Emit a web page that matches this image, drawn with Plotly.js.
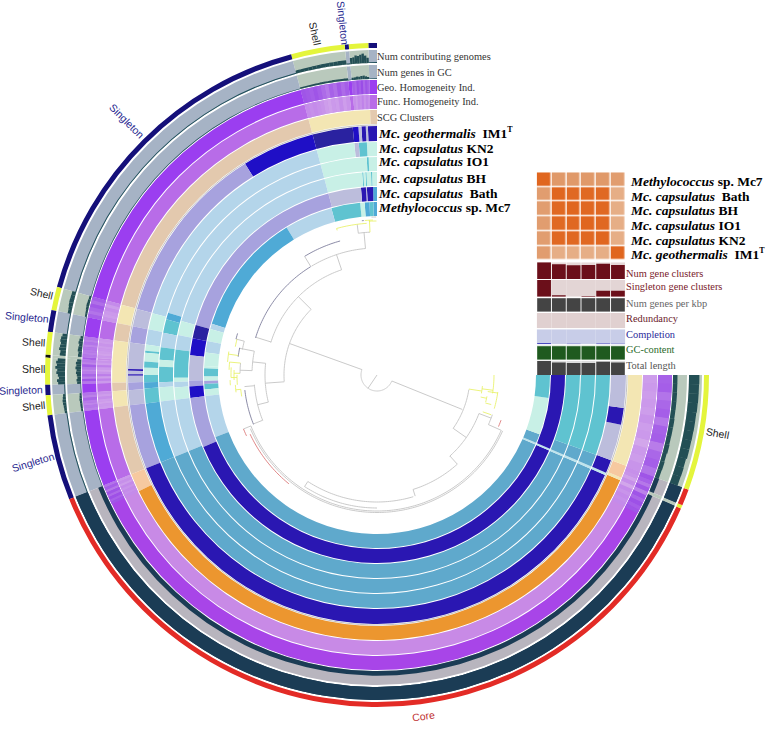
<!DOCTYPE html>
<html><head><meta charset="utf-8">
<script src="https://cdn.plot.ly/plotly-3.0.1.min.js"></script>
<style>html,body{margin:0;padding:0;background:#fff}#c{width:767px;height:730px}</style>
</head><body><div id="c"></div>
<script>
/* ---------- data (angles: degrees counter-clockwise from the top) ---------- */
const sectionEdges=[0,1.5,4.9,5.6,15,74.6,78.7,82.5,86.5,87,91.7,93.5,97,112,246.3,246.9,249.8,270];
const sectionKind=['S','H','S','H','S','H','S','H','K','H','S','H','S','C','H','C','H'];

const shellFrom=[1.5,5.6,74.6,82.5,87,93.5,249.8];
const shellTo=[4.9,15,78.7,86.5,91.7,97,270];
const shellContrib=[
 [2.5,3.5,4.5,4,3.5,3.8,3,2.8],
 [2,1.9,1.8,1.8,1.7,1.7,1.6,1.6,1.5,1.5,1.4,1.4],
 [1.8,1.9,2,1.9,1.7,1.6],
 [2.3,2.8,3,2.6,2.9,3.2,2.5,2.7],
 [3.5,4.2,3.8,4.5,3.6,4,3.3,2.8,3.7,3.2],
 [1.2,1.4,1.6,1.5,1.3,1.2,1.1],
 [3.8,3.9,3.8,4.2,4.2,4.3,4.4,4.4,4.6,4.7,4.7,4.8]];
const shellGenes=[
 [1.5,2,2.6,2.4,2,2.2,1.8,1.6],
 [1.6,1.5,1.5,1.5,1.4,1.4,1.4,1.3,1.3,1.2,1.2,1.2],
 [1.5,1.8,2,1.8,1.5,1.4],
 [2,2.6,3,2.4,2.8,3,2.4,2.6],
 [3,3.8,3.4,4,3.2,3.6,3,2.6,3.2,2.8],
 [1.4,1.6,1.8,1.6,1.5,1.4,1.3],
 [3,3.2,3,3.4,3.2,3.3,3.4,3.2,3.3,3.3,3.2,3.2]];
const shellGeo=[
 [.55,.7,.5,.8,.6,.75,.5,.6],
 [.6,.45,.65,.4,.55,.3,.45,.6,.7,.6,.65,.7],
 [.6,.4,.65,.5,.35,.55],
 [.3,.2,.35,.15,.3,.25,.2,.3],
 [.3,.15,.6,.3,.1,.25,.5,.2,.7,.3],
 [.35,.2,.5,.25,.15,.3,.2],
 [.35,.6,.5,.25,.6,.55,.3,.6,.5,.35,.6,.55]];
const shellFunc=[
 [.45,.55,.4,.6,.45,.5,.35,.45],
 [.4,.3,.45,.3,.35,.25,.3,.4,.45,.5,.45,.5],
 [.5,.3,.45,.35,.3,.4],
 [.35,.3,.4,.3,.35,.3,.25,.35],
 [.4,.3,.6,.35,.25,.4,.65,.3,.6,.35],
 [.4,.3,.45,.3,.25,.35,.3],
 [.4,.3,.35,.2,.35,.3,.4,.3,.35,.3,.35,.3]];
const sectionContrib=0.45, coreContrib=6, sectionGenes=0.45, coreGenes=3.4;
const streakFrom=[112,242];
const streakTo=[116,249.8];
const geoStreaks=[[.35,.6,.3,.7,.45,.75,.55,.7],[.7,.6,.75,.5,.7,.2,.65,.3,.55,.7]];
const funcStreaks=[[.35,.45,.3,.5,.4,.5,.45,.5],[.5,.45,.5,.4,.5,.2,.45,.25,.4,.45]];

const scgEdges=[0,1.5,15,74.6,78.7,82.5,91.7,93.5,97,112,116,246.6,247.2,250,270];
const scgTones=['T','Y','T','Y','T','Y','T','Y','T','P','O','Y','P','Y'];
const im1Edges=[0,2.1,2.6,3.6,4.3,5.6,15,32,74.6,78.7,82.5,88.6,89,89.8,90.2,91.7,93.5,97,112,246.3,246.9,250,258.5,262.4,270];
const im1Tones=['B','G','B','G','V','D','V','L','G','L','G','B','G','B','G','L','G','L','B','W','B','G','B','G'];
const kn2Edges=[0,2.5,4.5,5.6,15,74.6,78.7,82.5,84,84.5,86.7,88.2,90,91.8,93.3,97,112,246.3,246.9,250,270];
const kn2Tones=['M','C','G','M','U','M','U','M','C','M','C','M','C','A','C','A','E','W','E','C'];
const io1Edges=[0,2.2,2.7,15,73.4,75.2,78.8,82.7,86,87.8,91.9,93.2,97,112,246.3,246.9,250,270];
const io1Tones=['M','C','M','U','A','C','U','C','M','C','U','M','U','E','W','E','C'];
const bhEdges=[0,1.4,1.7,3,3.3,3.9,4.2,15,74.6,78.6,82.8,90.8,92,93.5,97,112,246.3,246.9,250,270];
const bhTones=['M','C','M','C','M','C','M','U','M','U','C','M','U','M','U','E','W','E','C'];
const bathEdges=[0,1.2,3.1,3.4,4.9,15,74.6,78.7,84,91.7,93.5,97,112.5,246.3,246.9,270];
const bathTones=['A','B','G','B','G','L','D','V','G','L','V','L','B','W','B'];
const mc7Edges=[0,1.2,2.5,4.1,5.6,15.3,31.5,72.8,74.6,78.7,82.5,87,87.8,90.5,92,93,94.8,97,111,246.3,246.9,250,262.4,270];
const mc7Tones=['A','C','A','M','C','U','A','U','M','U','M','M','C','M','L','C','M','U','E','W','E','M','C'];

/* tree: arcs [radius, from, to, colour], links [angle, r1, r2, colour] */
const treeArcs=[[16,70.2,248,'g'],[93,45.1,94,'g'],[111,18.6,73,'g'],[127,31.5,73,'d'],[139,15.4,31.3,'d'],[127,5.2,31,'g'],
 [112,84,104,'g'],[125,79,88,'g'],[145.5,73.4,75.7,'d'],[144.5,75.7,78.7,'y'],[140,78.8,82.5,'d'],[137,75.7,79.3,'g'],[137,85,89.3,'g'],
 [150,81,85,'y'],[148,85,88,'y'],[146,87,91,'y'],[143,88,92,'y'],[140,90,94,'y'],[147,92,94,'y'],[142,94,97,'y'],[137,96,99,'y'],[123,94.5,111.7,'g'],[133,96.5,111.8,'d'],
 [144,112,115,'r'],[140,115,141,'r'],[136,112,246,'g'],[137.5,113,246,'g'],[133,147,180,'g'],[127,147,196.6,'g'],[120,197.5,222,'g'],
 [109,221.8,249.3,'g'],[93,235,261,'g'],[106,260,264,'y'],[117,261,270,'y'],[112,256,259,'y'],[122,254,262,'y'],[122,246,251,'g'],[132,247,250,'r'],
 [143,2.8,7.5,'g'],[152,3.9,15.4,'y'],[155,1.5,4.5,'y'],[154,0.2,3,'y'],[158,0.3,2,'g'],[155,4.9,5.6,'d']];
const treeLinks=[[146,0,16,'g'],[70.2,16,93,'g'],[248,16,92,'g'],[45.1,93,111,'g'],[72.7,111,127,'g'],[31.4,127,139,'g'],[18.6,111,127,'g'],[5.2,127,143,'g'],
 [94.2,93,112,'g'],[84,112,125,'g'],[104,112,123,'g'],[79,125,137,'g'],[75.7,137,145.5,'g'],[79,137,140,'g'],[88,125,137,'g'],[85,137,148,'y'],[89.3,137,143,'y'],
 [111.6,123,133,'g'],[95,123,133,'g'],[147,127,133,'g'],[197.5,120,127,'g'],[222,109,120,'g'],[235,93,109,'g'],[261.3,93,106,'y'],[249.3,109,122,'g'],[262.5,106,117,'y'],[258,106,112,'y'],[261.5,112,122,'y'],[255.5,112,118,'y'],[250.8,112,121,'y'],
 [7.5,143,152,'g'],[2.8,143,155,'y'],[112,136,144,'g'],[246,122,136,'g'],[15.4,150,152,'y'],[82,140,150,'y'],[91,140,146,'y'],[96,137,142,'y']];

/* matrix and bars on the right */
const genomes=['Mc7','Bath','BH','IO1','KN2','IM1'];
const matrixValues=[
 [1,.42,.42,.42,.42,.38],
 [.38,1,.97,.97,.97,.22],
 [.38,.97,1,.98,.98,.22],
 [.38,.97,.98,1,.98,.22],
 [.38,.97,.98,.98,1,.22],
 [.38,.22,.22,.22,.22,1]];
const numGeneClusters=[100,88,82,84,92,84];
const singletonClusters=[100,8,0,4,35,35];
const genesPerKbp=[96,96,96,96,96,96];
const redundancy=[0,0,0,0,0,0];
const completion=[8,0,3,0,6,3];
const gcContent=[94,94,94,94,94,94];
const totalLength=[100,88,84,84,92,87];
const barRows=[numGeneClusters,singletonClusters,genesPerKbp,redundancy,completion,gcContent,totalLength];

const ringTitles=['Num contributing genomes','Num genes in GC','Geo. Homogeneity Ind.','Func. Homogeneity Ind.','SCG Clusters'];
const rowTitles=['Num gene clusters','Singleton gene clusters','Num genes per kbp','Redundancy','Completion','GC-content','Total length'];
const sp={geo:'<i>Mc. geothermalis</i>  IM1<sup><span style="font-size:8px">T</span></sup>',kn2:'<i>Mc. capsulatus</i> KN2',io1:'<i>Mc. capsulatus</i> IO1',bh:'<i>Mc. capsulatus</i> BH',bath:'<i>Mc. capsulatus</i>  Bath',mc7:'<i>Methylococcus</i> sp. Mc7'};

/* ---------- styling and layout ---------- */
const W=767,H=730,CX=377,CY=375,RMAX=335;
const tone={B:'#2a17b2',D:'#2a22a0',V:'#1f0fc6',G:'#bcbddc',L:'#a7a2de',M:'#c8f0e6',C:'#5fc3d0',U:'#b4d5ea',A:'#4faad6',E:'#5fa9cc',W:'#bfe4ec',T:'#e3c9ae',Y:'#f3e6b3',P:'#f6c9a0',O:'#ec962f'};
const ring={strip:[327,332],r1:[312,325],r2:[296,310],geo:[281,295],func:[266,280],scg:[251,265],im1:[234,249],kn2:[219,233],io1:[204,218],bh:[189,203],bath:[174,188],mc7:[159,173]};
const traces=[];
function wedge(edges,colors,inner,heights){
  const th=[],wd=[],rr=[];
  for(let i=0;i<edges.length-1;i++){th.push((edges[i]+edges[i+1])/2);wd.push(edges[i+1]-edges[i]);rr.push(heights?heights[i]:0);}
  traces.push({type:'barpolar',theta:th,width:wd,r:heights?rr:th.map(()=>inner[1]-inner[0]),base:inner[0],
    marker:{color:colors,line:{width:0}},hoverinfo:'skip',showlegend:false});
}
const kinds=(m)=>sectionKind.map(k=>m[k]);
wedge(sectionEdges,kinds({S:'#15107a',H:'#e4f53c',C:'#e32b26',K:'#111111'}),ring.strip);
wedge(sectionEdges,kinds({S:'#a6b3c5',H:'#b9c9bc',C:'#1b3c55',K:'#b9c9bc'}),ring.r1);
wedge(sectionEdges,kinds({S:'#a6b3c5',H:'#b9c9bc',C:'#b8b5be',K:'#b9c9bc'}),ring.r2);
wedge(sectionEdges,kinds({S:'#9b3ef0',H:'#a860e6',C:'#a845e8',K:'#a860e6'}),ring.geo);
wedge(sectionEdges,kinds({S:'#b86ce8',H:'#c88ee8',C:'#c88ae6',K:'#c88ee8'}),ring.func);
const t=(arr)=>arr.map(k=>tone[k]);
wedge(scgEdges,t(scgTones),ring.scg);
wedge(im1Edges,t(im1Tones),ring.im1);
wedge(kn2Edges,t(kn2Tones),ring.kn2);
wedge(io1Edges,t(io1Tones),ring.io1);
wedge(bhEdges,t(bhTones),ring.bh);
wedge(bathEdges,t(bathTones),ring.bath);
wedge(mc7Edges,t(mc7Tones),ring.mc7);

/* bars of non-shell sections */
function sectionBars(low,high,inner,scale){
  const h=sectionKind.map(k=>(k==='C'?high:k==='S'?low:0)*scale);
  wedge(sectionEdges,sectionKind.map(k=>k==='C'?'#1b3c55':'#1f4f5a'),[inner,inner],h);
}
sectionBars(sectionContrib,coreContrib,ring.r1[0],13/6);
sectionBars(sectionGenes,coreGenes,ring.r2[0],14/10);

/* per-bin overlays */
function binTrace(froms,tos,values,inner,scale,color,cs){
  const th=[],wd=[],rr=[],cc=[];
  froms.forEach((f,i)=>{const n=values[i].length,w=(tos[i]-f)/n;
    values[i].forEach((v,j)=>{th.push(f+w*(j+.5));wd.push(w*1.02);rr.push(scale?v*scale:inner[1]-inner[0]);cc.push(v);});});
  traces.push({type:'barpolar',theta:th,width:wd,r:rr,base:inner[0],hoverinfo:'skip',showlegend:false,
    marker:cs?{color:cc,colorscale:cs,cmin:0,cmax:1,showscale:false,line:{width:0}}:{color:color,line:{width:0}}});
}
const geoScale=[[0,'#c592ea'],[1,'#8f3be6']],funcScale=[[0,'#dcb8ec'],[1,'#ab5ee8']];
binTrace(shellFrom,shellTo,shellContrib,ring.r1,13/6,'#234f55');
binTrace(shellFrom,shellTo,shellGenes,ring.r2,14/10,'#234f55');
binTrace(shellFrom,shellTo,shellGeo,ring.geo,0,null,geoScale);
binTrace(shellFrom,shellTo,shellFunc,ring.func,0,null,funcScale);
binTrace(streakFrom,streakTo,geoStreaks,ring.geo,0,null,geoScale);
binTrace(streakFrom,streakTo,funcStreaks,ring.func,0,null,funcScale);

/* tree drawn as arcs and links */
const treeColor={g:'#c4c4c4',d:'#6f6f90',y:'#e6f05c',r:'#d86a6a'};
Object.keys(treeColor).forEach(key=>{
  const rs=[],ths=[];
  treeArcs.filter(a=>a[3]===key).forEach(a=>{
    const n=Math.max(2,Math.ceil(Math.abs(a[2]-a[1])));
    for(let i=0;i<=n;i++){rs.push(a[0]);ths.push(a[1]+(a[2]-a[1])*i/n);}
    rs.push(null);ths.push(null);});
  treeLinks.filter(a=>a[3]===key).forEach(a=>{rs.push(a[1],a[2],null);ths.push(a[0],a[0],null);});
  traces.push({type:'scatterpolar',mode:'lines',r:rs,theta:ths,line:{color:treeColor[key],width:key==='g'?0.9:0.8},hoverinfo:'skip',showlegend:false});
});
/* grey guide arc between SCG and genomes */
{const rs=[],ths=[];for(let a=0;a<=270;a+=2){rs.push(250);ths.push(a);}
 traces.push({type:'scatterpolar',mode:'lines',r:rs,theta:ths,line:{color:'#a8a8a8',width:0.7},hoverinfo:'skip',showlegend:false});}

/* matrix */
traces.push({type:'heatmap',z:matrixValues,xaxis:'x',yaxis:'y',xgap:1.4,ygap:1.4,showscale:false,hoverinfo:'skip',zmin:0,zmax:1,
  colorscale:[[0,'#e9b590'],[.22,'#e6ae86'],[.4,'#e09b6c'],[1,'#e0661f']]});

/* bars under the matrix */
const rowTop=[262.3,280,297.7,313,329.3,345.3,360.7],rowBot=[279,296.7,311.7,328.3,344.3,359.7,375];
const rowBar=['#6b0f1a','#6b0f1a','#444444','#6b0f1a','#4a4ac0','#1f5a1f','#444444'];
const rowBg=['#e6d8d8','#e3d5d5','#dddddd','#e0d0d0','#c8cde8','#cfe0cf','#dddddd'];
const BX0=536.7,BX1=625.3;
const layout={width:W,height:H,margin:{l:0,r:0,t:0,b:0},paper_bgcolor:'#fff',plot_bgcolor:'rgba(0,0,0,0)',showlegend:false,barmode:'overlay',
 polar:{domain:{x:[(CX-RMAX)/W,(CX+RMAX)/W],y:[1-(CY+RMAX)/H,1-(CY-RMAX)/H]},bgcolor:'rgba(0,0,0,0)',barmode:'overlay',
   angularaxis:{visible:false,rotation:90,direction:'counterclockwise',thetaunit:'degrees'},
   radialaxis:{visible:false,range:[0,RMAX]}},
 xaxis:{domain:[BX0/W,BX1/W],range:[-.5,5.5],visible:false,fixedrange:true},
 yaxis:{domain:[1-260.7/H,1-172.3/H],range:[5.5,-.5],visible:false,fixedrange:true},
 annotations:[]};
barRows.forEach((vals,i)=>{
  const n=i+2;
  layout['xaxis'+n]={domain:[BX0/W,BX1/W],range:[-.5,5.5],visible:false,fixedrange:true,anchor:'y'+n};
  layout['yaxis'+n]={domain:[1-rowBot[i]/H,1-rowTop[i]/H],range:[0,100],visible:false,fixedrange:true,anchor:'x'+n};
  traces.push({type:'bar',x:[0,1,2,3,4,5],y:[100,100,100,100,100,100],width:i>=3&&i<=4||i===1?1:.96,marker:{color:rowBg[i],line:{width:0}},xaxis:'x'+n,yaxis:'y'+n,hoverinfo:'skip',showlegend:false});
  traces.push({type:'bar',x:[0,1,2,3,4,5],y:vals,width:.93,marker:{color:rowBar[i],line:{width:0}},xaxis:'x'+n,yaxis:'y'+n,hoverinfo:'skip',showlegend:false});
});

/* text */
function note(x,y,text,size,color,family,extra){
  layout.annotations.push(Object.assign({xref:'paper',yref:'paper',x:x/W,y:1-y/H,text:text,showarrow:false,xanchor:'left',yanchor:'middle',
    font:{size:size,color:color,family:family},borderpad:0,align:'left'},extra||{}));
}
const serif='"Liberation Serif",serif',sans='"Liberation Sans",sans-serif';
[57,72,87,102,117].forEach((y,i)=>note(376,y,ringTitles[i],10.4,'#333',serif));
const ringSp=[sp.geo,sp.kn2,sp.io1,sp.bh,sp.bath,sp.mc7];
[133,148,162,178,193,207].forEach((y,i)=>note(376.5,y,'<b>'+ringSp[i]+'</b>',13.5,'#000',serif));
const rightSp=[sp.mc7,sp.bath,sp.bh,sp.io1,sp.kn2,sp.geo];
[181,196,211,226,240,254].forEach((y,i)=>note(629,y,'<b>'+rightSp[i]+'</b>',13.5,'#000',serif));
const rowColor=['#7a1a2a','#7a1a2a','#666','#6b1a2a','#2a2a9a','#2a6a2a','#555'];
[273,286,303,318,334,350,365].forEach((y,i)=>note(625,y,rowTitles[i],10.4,rowColor[i],serif));
const ringLabelText=['Shell','Singleton','Singleton','Shell','Singleton','Shell','Shell','Singleton','Shell','Singleton','Core','Shell'];
const ringLabelX=[315,343,127,41,27,33,33,21,33,33,423,717];
const ringLabelY=[33,23,121,293,317,342,369,390,406,462,716,433];
const ringLabelA=[78,84,45,13,5,3,0,-2,-5,-17,-8,10];
const labelColor={Shell:'#222',Singleton:'#28288f',Core:'#c03030'};
ringLabelText.forEach((s,i)=>note(ringLabelX[i],ringLabelY[i],s,10.5,labelColor[s],sans,{textangle:ringLabelA[i],xanchor:'center'}));

Plotly.newPlot('c',traces,layout,{staticPlot:true,displayModeBar:false});
</script></body></html>
